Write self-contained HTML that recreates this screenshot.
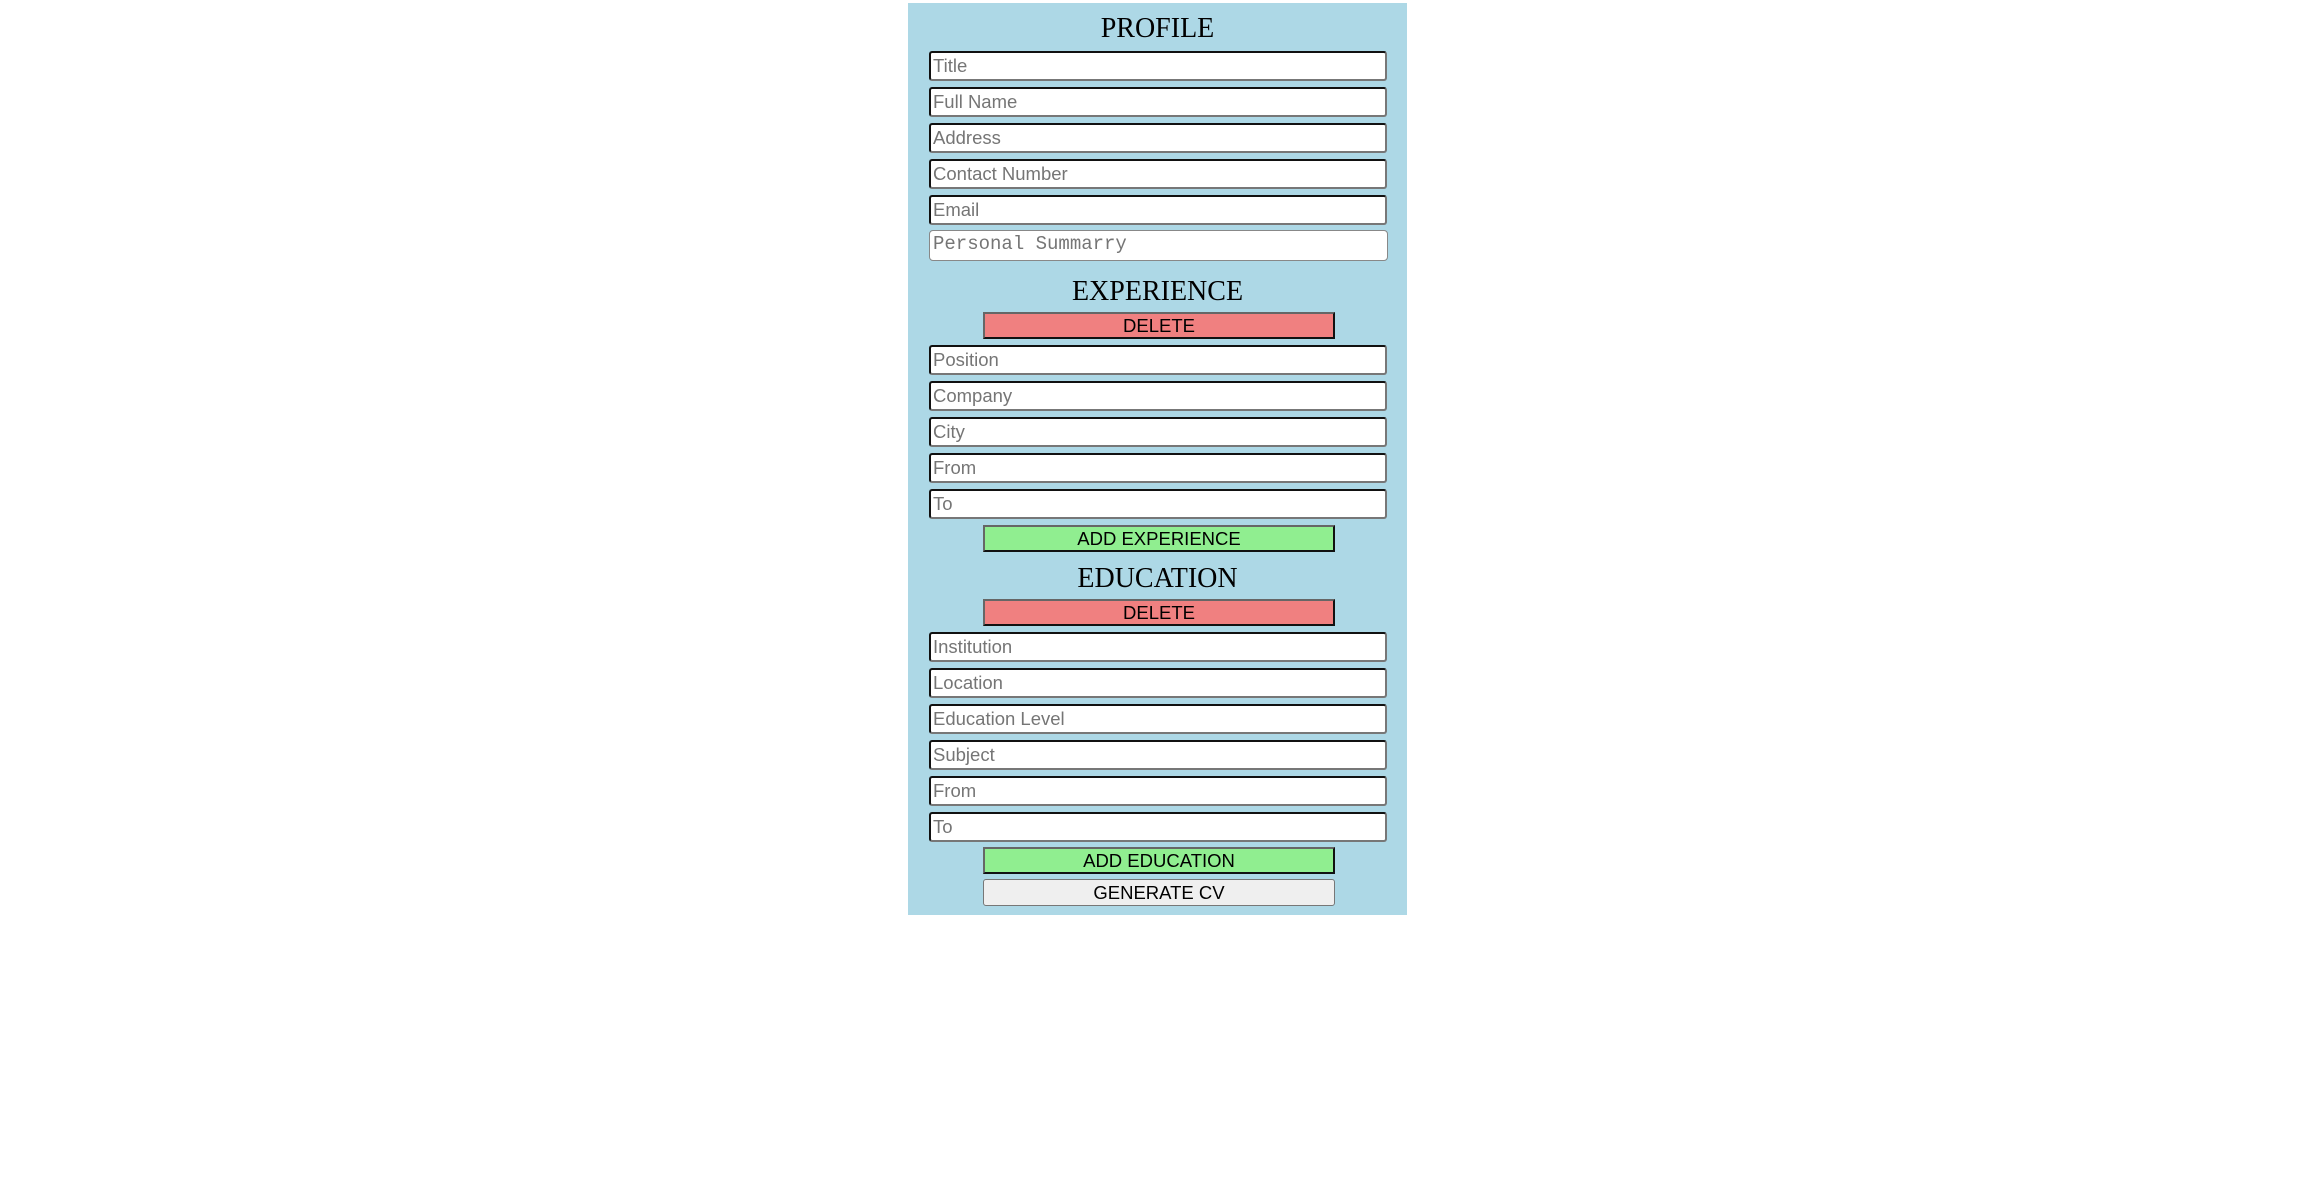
<!DOCTYPE html>
<html><head><style>
body{margin:0;width:2318px;height:1189px;background:#fff;position:relative;overflow:hidden}
#p{position:absolute;left:908px;top:3px;width:499px;height:912px;background:#add8e6}
.i{position:absolute;left:929px;width:452px;height:26px;background:#fff;border:2px solid;border-color:#111 #777 #777 #111;border-radius:3px;font:18.5px "Liberation Sans",sans-serif;color:#757575;line-height:26px;padding-left:2px;box-sizing:content-box}
.h{position:absolute;left:908px;width:499px;text-align:center;font:28px "Liberation Serif",serif;color:#000}
.b{position:absolute;left:983px;width:348px;height:23px;border:2px solid;border-color:#666 #111 #111 #666;font:18.5px "Liberation Sans",sans-serif;text-align:center;line-height:23px;color:#000}
.r{background:#f08080}.g{background:#90ee90}
</style></head><body>
<div id="p"></div>
<div class="h" style="top:13px">PROFILE</div>
<div class="i" style="top:51px">Title</div>
<div class="i" style="top:87px">Full Name</div>
<div class="i" style="top:123px">Address</div>
<div class="i" style="top:159px">Contact Number</div>
<div class="i" style="top:195px">Email</div>
<div class="i" style="top:230px;height:29px;border:1px solid #888;border-radius:4px;width:454px;font:19px 'Liberation Mono',monospace;line-height:26px;padding-left:3px">Personal Summarry</div>
<div class="h" style="top:276px">EXPERIENCE</div>
<div class="b r" style="top:312px">DELETE</div>
<div class="i" style="top:345px">Position</div>
<div class="i" style="top:381px">Company</div>
<div class="i" style="top:417px">City</div>
<div class="i" style="top:453px">From</div>
<div class="i" style="top:489px">To</div>
<div class="b g" style="top:525px">ADD EXPERIENCE</div>
<div class="h" style="top:563px">EDUCATION</div>
<div class="b r" style="top:599px">DELETE</div>
<div class="i" style="top:632px">Institution</div>
<div class="i" style="top:668px">Location</div>
<div class="i" style="top:704px">Education Level</div>
<div class="i" style="top:740px">Subject</div>
<div class="i" style="top:776px">From</div>
<div class="i" style="top:812px">To</div>
<div class="b g" style="top:847px">ADD EDUCATION</div>
<div class="b" style="top:879px;background:#efefef;border:1px solid #777;border-radius:3px;width:350px;height:25px;line-height:25px">GENERATE CV</div>
</body></html>
